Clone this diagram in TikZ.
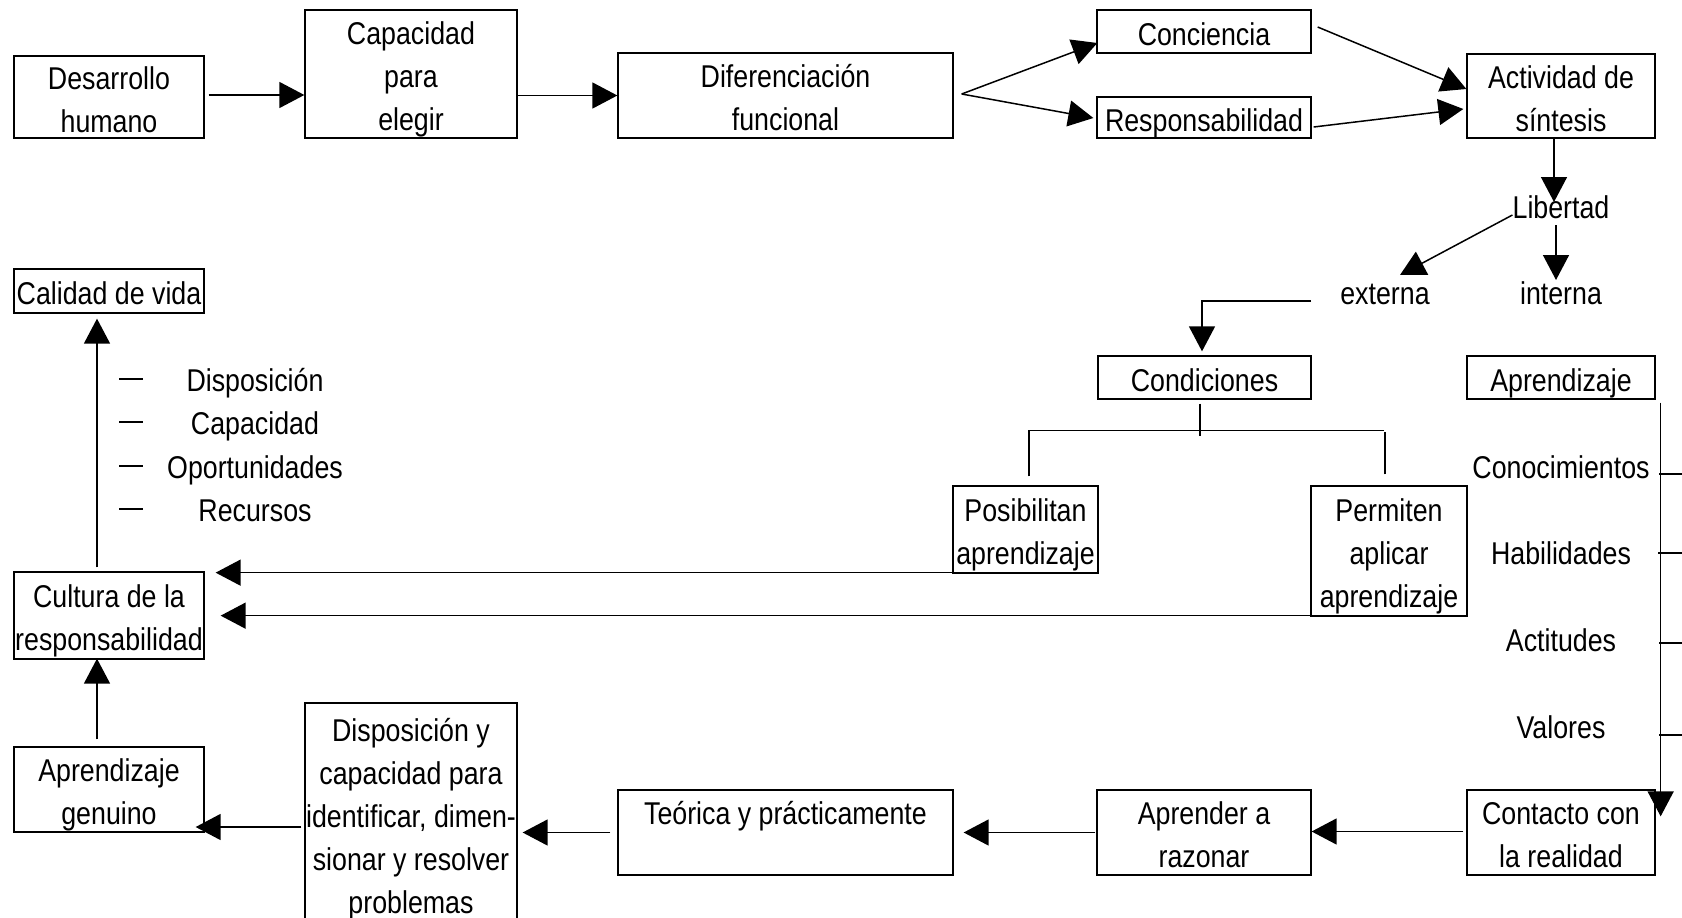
\documentclass[tikz,border=0pt]{standalone}
\usepackage{fontspec}
\setmainfont{Liberation Sans}[FakeStretch=0.85]
\usetikzlibrary{arrows.meta,calc}
\newcommand{\myfs}{\fontsize{31.5}{43}\selectfont}
\newcommand{\lastln}[1]{\raisebox{0pt}[\height][0pt]{#1}}
\newcommand{\upln}{\rule{0pt}{27.5pt}}
\begin{document}
\begin{tikzpicture}[x=1pt,y=-1pt,
  bx/.style 2 args={draw,line width=1.3pt,inner sep=0pt,align=center,font=\myfs,
    minimum width=#1,minimum height=#2},
  txt/.style={inner sep=0pt,font=\myfs,text height=23pt,text depth=0pt},
  ln/.style={line width=1.5pt},
  arr/.style={line width=1.5pt,-{Triangle[length=25pt,width=26pt]}}]
\useasboundingbox (0,0) rectangle (1682,918);
\fill[white] (0,0) rectangle (1682,918);
\clip (0,0) rectangle (1682,918);
% boxes
\node[bx={190pt}{82pt}]  (des)  at (109,97)      {\upln Desarrollo\\\lastln{humano}};
\node[bx={212pt}{128pt}] (cap)  at (411,74)      {\upln Capacidad\\para\\\lastln{elegir}};
\node[bx={335pt}{85pt}]  (dif)  at (785.5,95.5)  {\upln Diferenciación\\\lastln{funcional}};
\node[bx={214pt}{43pt}]  (con)  at (1204,31.5)   {\upln\lastln{Conciencia}};
\node[bx={214pt}{41pt}]  (res)  at (1204,117.5)  {\upln\lastln{Responsabilidad}};
\node[bx={188pt}{84pt}]  (act)  at (1561,96)     {\upln Actividad de\\\lastln{síntesis}};
\node[bx={190pt}{44pt}]  (cal)  at (109,291)     {\upln\lastln{Calidad de vida}};
\node[bx={213pt}{43pt}]  (cond) at (1204.5,377.5){\upln\lastln{Condiciones}};
\node[bx={188pt}{43pt}]  (apr)  at (1561,377.5)  {\upln\lastln{Aprendizaje}};
\node[bx={145pt}{87pt}]  (pos)  at (1025.5,529.5){\upln Posibilitan\\\lastln{aprendizaje}};
\node[bx={156pt}{130pt}] (per)  at (1389,551)    {\upln Permiten\\aplicar\\\lastln{aprendizaje}};
\node[bx={190pt}{87pt}]  (cul)  at (109,615.5)   {\upln Cultura de la\\\lastln{responsabilidad}};
\node[bx={190pt}{85pt}]  (gen)  at (109,789.5)   {\upln Aprendizaje\\\lastln{genuino}};
\node[bx={212pt}{222pt}] (dis)  at (411,814)     {\upln Disposición y\\capacidad para\\identificar, dimen-\\sionar y resolver\\\lastln{problemas}};
\node[bx={335pt}{85pt}]  (teo)  at (785.5,832.5) {\upln Teórica y prácticamente\\\lastln{\mbox{}}};
\node[bx={214pt}{85pt}]  (raz)  at (1204,832.5)  {\upln Aprender a\\\lastln{razonar}};
\node[bx={188pt}{85pt}]  (cont) at (1561,832.5)  {\upln Contacto con\\\lastln{la realidad}};
% plain texts
\node[txt] (lib) at (1561,207) {Libertad};
\node[txt] (ext) at (1385,293) {externa};
\node[txt] (int) at (1561,293) {interna};
\node[txt] (l1) at (255,380) {Disposición};
\node[txt] (l2) at (255,423) {Capacidad};
\node[txt] (l3) at (255,467) {Oportunidades};
\node[txt] (l4) at (255,510) {Recursos};
\node[txt] (k1) at (1561,467) {Conocimientos};
\node[txt] (k2) at (1561,553) {Habilidades};
\node[txt] (k3) at (1561,640) {Actitudes};
\node[txt] (k4) at (1561,727) {Valores};
% coordinates
\coordinate (libin) at (1554,202);
\coordinate (extin) at (1400,275);
\coordinate (intin) at (1556,280);
\coordinate (vl) at (1659,0);
\coordinate (dsh) at (119,0);
% top row
\draw[arr] ($(des.east)+(4,-2)$) -- ($(des.east -| cap.west)+(0,-2)$);
\draw[arr] (cap.east |- dif.west) -- (dif.west);
\draw[arr] ($(dif.east)+(8,-1.5)$) -- ($(con.west)+(1,11.5)$);
\draw[arr] ($(dif.east)+(8,-1.5)$) -- ($(res.west)+(-3,0.5)$);
\draw[arr] ($(con.east)+(6,-4.5)$) -- ($(act.west)+(0,-7)$);
\draw[arr] ($(res.east)+(2,9.5)$) -- ($(act.west)+(-3,13)$);
% libertad
\draw[arr] (act.south -| libin) -- (libin);
\draw[arr] ($(lib.west)+(0,8)$) -- (extin);
\draw[arr] ($(lib.south -| intin)+(0,6.5)$) -- (intin);
\draw[arr] ($(ext.west)+(-29,8)$) -| ($(cond.north)+(-2.5,-4)$);
% condiciones tree
\draw[ln] ($(cond.south)+(-4.5,4)$) -- ++(0,32);
\draw[ln] ($(pos.north)+(3.5,-9)$) |- ($(per.north)+(-5,-55)$);
\draw[ln] ($(per.north)+(-4,-11)$) -- ++(0,-42);
% to cultura
\draw[arr] ($(pos.south west)+(0,-1)$) -- ($(cul.east |- pos.south west)+(11,-1)$);
\draw[arr] ($(per.south west)+(0,-1)$) -- ($(cul.east |- per.south west)+(16,-1)$);
\draw[arr] ($(cul.north)+(-12,-4)$) -- ($(cal.south)+(-12,5)$);
\draw[arr] ($(gen.north)+(-12,-7)$) -- ($(cul.south)+(-12,-1)$);
% list dashes
\foreach \n in {l1,l2,l3,l4} \draw[line width=1.2pt] ($(dsh |- \n)+(0,-1)$) -- ++(24,0);
% bottom row
\draw[arr] ($(dis.west)+(-3,13)$) -- ($(gen.east)+(-9,37.5)$);
\draw[arr] ($(teo.west)+(-7,0)$) -- ($(dis.east |- teo.west)+(5,0)$);
\draw[arr] ($(raz.west)+(-1,0)$) -- ($(teo.east)+(10,0)$);
\draw[arr] ($(cont.west)+(-3,-1)$) -- ($(raz.east)+(0,-1)$);
% aprendizaje column
\draw[arr] ($(apr.south east)+(5,3)$) -- ($(cont.north east)+(5,27)$);
\draw[ln] ($(vl |- k1)+(0,7)$) -- ++(26,0);
\draw[ln] ($(vl |- k2)+(-1,0)$) -- ++(27,0);
\draw[ln] ($(vl |- k3)+(0,3)$) -- ++(26,0);
\draw[ln] ($(vl |- k4)+(0,8)$) -- ++(26,0);
\end{tikzpicture}
\end{document}
